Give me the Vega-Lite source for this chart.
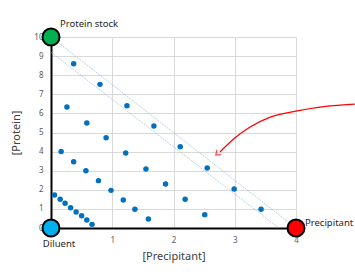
{
  "$schema": "https://vega.github.io/schema/vega-lite/v6.json",
  "width": 245,
  "height": 191,
  "autosize": {"type": "none"},
  "padding": {"left": 51, "top": 37, "right": 59, "bottom": 46},
  "background": "white",
  "config": {
    "view": {"stroke": null},
    "font": "Noto Sans"
  },
  "datasets": {
    "guides": [
      {"series": "upper", "x": 0, "y": 10},
      {"series": "upper", "x": 4, "y": 0},
      {"series": "lower", "x": 0, "y": 9.2},
      {"series": "lower", "x": 3.72, "y": 0}
    ],
    "samples": [
      {"x": 0.37, "y": 8.6}, {"x": 0.8, "y": 7.52}, {"x": 1.24, "y": 6.4}, {"x": 1.68, "y": 5.34},
      {"x": 2.11, "y": 4.26}, {"x": 2.55, "y": 3.14}, {"x": 2.99, "y": 2.04}, {"x": 3.43, "y": 0.98},
      {"x": 0.26, "y": 6.33}, {"x": 0.585, "y": 5.5}, {"x": 0.9, "y": 4.73}, {"x": 1.22, "y": 3.93},
      {"x": 1.55, "y": 3.09}, {"x": 1.87, "y": 2.3}, {"x": 2.19, "y": 1.5}, {"x": 2.51, "y": 0.7},
      {"x": 0.166, "y": 4.0}, {"x": 0.37, "y": 3.47}, {"x": 0.57, "y": 3.0}, {"x": 0.775, "y": 2.48},
      {"x": 0.98, "y": 1.97}, {"x": 1.18, "y": 1.47}, {"x": 1.37, "y": 0.98}, {"x": 1.59, "y": 0.47},
      {"x": 0.057, "y": 1.73}, {"x": 0.15, "y": 1.5}, {"x": 0.23, "y": 1.29}, {"x": 0.32, "y": 1.06},
      {"x": 0.41, "y": 0.84}, {"x": 0.5, "y": 0.64}, {"x": 0.585, "y": 0.42}, {"x": 0.67, "y": 0.19}
    ],
    "arrow": [
      {"i": 0, "x": 4.96, "y": 6.49},
      {"i": 1, "x": 4.55, "y": 6.39},
      {"i": 2, "x": 4.02, "y": 6.13},
      {"i": 3, "x": 3.58, "y": 5.81},
      {"i": 4, "x": 3.25, "y": 5.29},
      {"i": 5, "x": 3.0, "y": 4.71},
      {"i": 6, "x": 2.76, "y": 3.98}
    ],
    "arrowhead": [{"x": 2.73, "y": 3.93}],
    "stocks": [
      {"name": "Protein stock", "x": 0, "y": 10},
      {"name": "Diluent", "x": 0, "y": 0},
      {"name": "Precipitant", "x": 4, "y": 0}
    ]
  },
  "encoding": {
    "x": {
      "field": "x", "type": "quantitative",
      "scale": {"domain": [0, 4], "nice": false, "zero": false},
      "axis": {
        "values": [0, 1, 2, 3, 4],
        "format": "d",
        "labelExpr": "datum.value == 0 ? '' : datum.label",
        "labelOverlap": false, "labelFlush": false,
        "grid": true, "gridColor": "#d9d9d9", "gridWidth": 1,
        "domainColor": "#000000", "domainWidth": 2,
        "ticks": false,
        "labelFontSize": 8, "labelColor": "#595959", "labelPadding": 8,
        "title": "[Precipitant]", "titleFontSize": 11, "titleFontWeight": "normal",
        "titleColor": "#404040", "titlePadding": 6
      }
    },
    "y": {
      "field": "y", "type": "quantitative",
      "scale": {"domain": [0, 10], "nice": false},
      "axis": {
        "values": [0, 1, 2, 3, 4, 5, 6, 7, 8, 9, 10],
        "tickCount": 11,
        "format": "d",
        "labelOverlap": false, "labelFlush": false,
        "grid": true, "gridColor": "#d9d9d9", "gridWidth": 1,
        "domainColor": "#000000", "domainWidth": 2,
        "ticks": false,
        "labelFontSize": 8, "labelColor": "#595959", "labelPadding": 8,
        "title": "[Protein]", "titleFontSize": 11, "titleFontWeight": "normal",
        "titleColor": "#404040", "titlePadding": 12
      }
    }
  },
  "layer": [
    {
      "data": {"name": "guides"},
      "mark": {"type": "line", "color": "#8fb4e3", "strokeWidth": 0.8, "opacity": 0.8, "strokeDash": [2, 1]},
      "encoding": {
        "detail": {"field": "series"}
      }
    },
    {
      "data": {"name": "samples"},
      "mark": {"type": "circle", "color": "#0070c0", "size": 30, "opacity": 1}
    },
    {
      "data": {"name": "arrow"},
      "mark": {"type": "line", "color": "#ff0000", "strokeWidth": 1.3, "interpolate": "monotone", "clip": false},
      "encoding": {
        "order": {"field": "i"}
      }
    },
    {
      "data": {"name": "arrowhead"},
      "mark": {"type": "point", "shape": "M-1,0.3L0,-1L1,0.3", "filled": false, "stroke": "#ff0000", "strokeWidth": 1.3, "size": 40, "angle": 228}
    },
    {
      "data": {"name": "stocks"},
      "mark": {"type": "point", "filled": true, "shape": "circle", "size": 290, "stroke": "#000000", "strokeWidth": 2, "opacity": 1, "clip": false},
      "encoding": {
        "fill": {
          "field": "name", "type": "nominal",
          "scale": {"domain": ["Protein stock", "Diluent", "Precipitant"], "range": ["#00b050", "#00b0f0", "#ff0000"]},
          "legend": null
        }
      }
    },
    {
      "data": {"name": "stocks"},
      "transform": [{"filter": "datum.name == 'Protein stock'"}],
      "mark": {"type": "text", "align": "left", "baseline": "middle", "dx": 9, "dy": -13, "fontSize": 9.5, "color": "#262626"},
      "encoding": {
        "text": {"field": "name"}
      }
    },
    {
      "data": {"name": "stocks"},
      "transform": [{"filter": "datum.name == 'Precipitant'"}],
      "mark": {"type": "text", "align": "left", "baseline": "middle", "dx": 9, "dy": -5, "fontSize": 9.5, "color": "#262626"},
      "encoding": {
        "text": {"field": "name"}
      }
    },
    {
      "data": {"name": "stocks"},
      "transform": [{"filter": "datum.name == 'Diluent'"}],
      "mark": {"type": "text", "align": "center", "baseline": "middle", "dx": 8, "dy": 16, "fontSize": 9.5, "color": "#262626"},
      "encoding": {
        "text": {"field": "name"}
      }
    }
  ]
}
